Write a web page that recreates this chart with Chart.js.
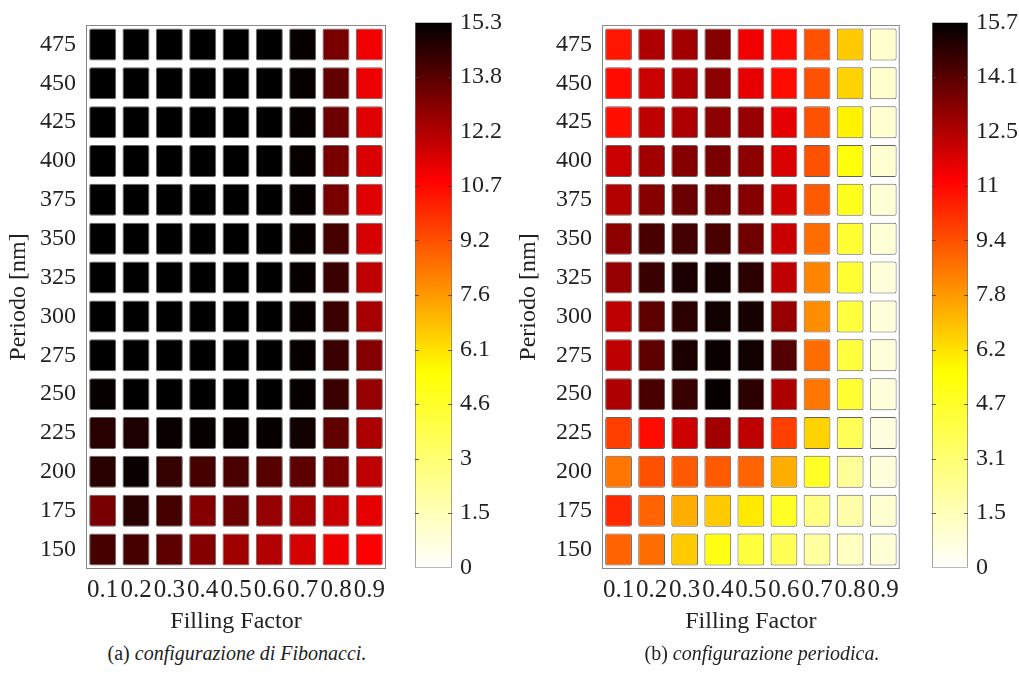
<!DOCTYPE html>
<html>
<head>
<meta charset="utf-8">
<script src="https://cdn.jsdelivr.net/npm/chart.js@4.4.1/dist/chart.umd.min.js"></script>
<style>
  body { margin: 0; background: #fff; }
  #wrap { position: relative; width: 1019px; height: 684px; overflow: hidden; }
  canvas { position: absolute; top: 0; }
  .caption { position: absolute; top: 642px; font: 20px "Liberation Serif", "Times New Roman", serif; color: #222; white-space: nowrap; transform: translateX(-50%); }
</style>
</head>
<body>
<div id="wrap">
  <canvas id="heat-fib" width="395" height="636" style="left:0"></canvas>
  <canvas id="cb-fib" width="110" height="590" style="left:405px"></canvas>
  <canvas id="heat-per" width="395" height="636" style="left:510px"></canvas>
  <canvas id="cb-per" width="97" height="590" style="left:922px"></canvas>
  <div class="caption" style="left:237px">(a) <i>configurazione di Fibonacci.</i></div>
  <div class="caption" style="left:762px">(b) <i>configurazione periodica.</i></div>
</div>
<script>
// rows go from top (475 nm) to bottom (150 nm)
const periods = [475, 450, 425, 400, 375, 350, 325, 300, 275, 250, 225, 200, 175, 150];
const fillingFactors = ['0.1', '0.2', '0.3', '0.4', '0.5', '0.6', '0.7', '0.8', '0.9'];

const fibValues = [
  [15.3, 15.3, 15.3, 15.3, 15.3, 15.3, 15.2, 13.2, 11.1],
  [15.3, 15.3, 15.3, 15.3, 15.3, 15.3, 15.2, 13.6, 11.2],
  [15.3, 15.3, 15.3, 15.3, 15.3, 15.3, 15.2, 13.4, 11.4],
  [15.3, 15.3, 15.3, 15.3, 15.3, 15.3, 15.2, 13.2, 11.5],
  [15.3, 15.3, 15.3, 15.3, 15.3, 15.3, 15.2, 13.2, 11.4],
  [15.3, 15.3, 15.3, 15.3, 15.3, 15.3, 15.2, 14.1, 11.6],
  [15.3, 15.3, 15.3, 15.3, 15.3, 15.3, 15.2, 14.3, 12.0],
  [15.3, 15.3, 15.3, 15.3, 15.3, 15.3, 15.2, 14.3, 12.4],
  [15.3, 15.3, 15.3, 15.3, 15.3, 15.3, 15.2, 14.3, 13.0],
  [15.2, 15.3, 15.3, 15.3, 15.3, 15.3, 15.2, 14.3, 12.7],
  [14.6, 14.8, 15.1, 15.2, 15.2, 15.2, 15.0, 13.6, 12.3],
  [14.6, 15.1, 14.4, 14.1, 14.0, 13.8, 13.7, 13.2, 12.0],
  [13.2, 14.6, 14.1, 13.0, 13.4, 12.7, 12.4, 11.8, 11.3],
  [14.1, 14.1, 13.7, 13.0, 12.5, 12.2, 11.6, 11.1, 10.9]
];

const perValues = [
  [10.7, 12.6, 12.8, 13.3, 11.4, 10.9, 9.4, 6.8, 1.1],
  [10.9, 12.1, 12.6, 13.2, 11.6, 10.9, 9.4, 6.6, 1.1],
  [10.8, 12.3, 12.6, 13.2, 13.0, 11.6, 9.4, 5.9, 1.0],
  [12.1, 12.8, 13.3, 13.5, 13.2, 11.8, 9.4, 5.4, 1.0],
  [12.5, 13.3, 13.8, 13.7, 13.3, 12.0, 9.2, 5.0, 0.9],
  [13.2, 14.4, 14.5, 14.4, 13.7, 12.1, 8.8, 4.5, 0.9],
  [13.0, 14.7, 15.2, 15.3, 14.9, 12.3, 8.3, 4.5, 0.8],
  [12.3, 14.0, 14.9, 15.4, 15.3, 13.0, 8.1, 4.3, 0.8],
  [12.3, 14.0, 15.2, 15.5, 15.4, 14.2, 8.8, 4.3, 0.8],
  [12.6, 14.4, 14.7, 15.6, 14.9, 12.6, 8.6, 4.5, 0.8],
  [9.8, 10.9, 12.0, 12.8, 12.3, 9.8, 6.6, 3.7, 0.7],
  [8.6, 9.4, 9.2, 9.2, 9.0, 7.4, 4.8, 2.3, 0.8],
  [10.3, 9.0, 7.4, 6.8, 6.1, 4.8, 2.8, 1.9, 1.0],
  [9.0, 8.8, 6.8, 5.2, 4.3, 3.7, 2.1, 1.4, 0.9]
];

const fibMax = 15.3;
const perMax = 15.7;
const fibTicks = ['0', '1.5', '3', '4.6', '6.1', '7.6', '9.2', '10.7', '12.2', '13.8', '15.3'];
const perTicks = ['0', '1.5', '3.1', '4.7', '6.2', '7.8', '9.4', '11', '12.5', '14.1', '15.7'];

// reversed "hot" colormap: white -> yellow -> red -> black
const cmap = [
  [0, [255, 255, 255]],
  [0.36, [255, 255, 0]],
  [0.71, [255, 0, 0]],
  [1, [0, 0, 0]]
];

function colorAt(t) {
  t = Math.max(0, Math.min(1, t));
  for (let i = 1; i < cmap.length; i++) {
    const [t1, c1] = cmap[i];
    const [t0, c0] = cmap[i - 1];
    if (t <= t1) {
      const f = (t - t0) / (t1 - t0);
      const c = c0.map((v, k) => Math.round(v + (c1[k] - v) * f));
      return `rgb(${c.join(',')})`;
    }
  }
  return 'rgb(0,0,0)';
}

const CELL_HALF = 10.3; // half cell height, nm
Chart.defaults.font.family = '"Liberation Serif", "Times New Roman", serif';
Chart.defaults.color = '#222';

const frame = {
  id: 'frame',
  afterDraw(chart) {
    const a = chart.chartArea;
    const ctx = chart.ctx;
    ctx.save();
    ctx.strokeStyle = '#888';
    ctx.lineWidth = 1;
    ctx.strokeRect(a.left + 0.5, a.top + 0.5, a.right - a.left - 1, a.bottom - a.top - 1);
    ctx.restore();
  }
};

// small inward tick marks on both edges of a colorbar
const innerTicks = {
  id: 'innerTicks',
  afterDraw(chart) {
    const a = chart.chartArea;
    const ctx = chart.ctx;
    const y = chart.scales.y;
    ctx.save();
    ctx.strokeStyle = 'rgba(60,60,60,0.8)';
    ctx.lineWidth = 1;
    y.ticks.forEach((t, i) => {
      if (i === 0 || i === y.ticks.length - 1) return;
      const py = Math.round(y.getPixelForValue(t.value)) + 0.5;
      ctx.beginPath();
      ctx.moveTo(a.left, py); ctx.lineTo(a.left + 4, py);
      ctx.moveTo(a.right - 4, py); ctx.lineTo(a.right, py);
      ctx.stroke();
    });
    ctx.restore();
  }
};

function heatmap(id, values, max, padRight, axisWidth) {
  const datasets = periods.map((p, i) => ({
    data: fillingFactors.map(() => [p - CELL_HALF, p + CELL_HALF]),
    backgroundColor: values[i].map((v) => colorAt(v / max)),
    borderColor: 'rgba(70,70,70,0.85)',
    borderWidth: 1,
    borderSkipped: false,
    borderRadius: 2,
    grouped: false,
    barPercentage: 0.81,
    categoryPercentage: 1
  }));
  new Chart(document.getElementById(id), {
    type: 'bar',
    data: { labels: fillingFactors, datasets },
    options: {
      responsive: false,
      animation: false,
      layout: { padding: { top: 25, right: padRight } },
      plugins: { legend: { display: false }, tooltip: { enabled: false } },
      scales: {
        x: {
          grid: { display: false, drawTicks: false },
          border: { display: false },
          ticks: { font: { size: 25 }, padding: 6, autoSkip: false, maxRotation: 0 },
          title: { display: true, text: 'Filling Factor', font: { size: 24 }, padding: 0 },
          afterFit: (s) => { s.height = 67; }
        },
        y: {
          min: 137.5,
          max: 487.5,
          grid: { display: false, drawTicks: false },
          border: { display: false },
          ticks: { font: { size: 24 }, padding: 10 },
          afterBuildTicks: (s) => { s.ticks = periods.map((p) => ({ value: p })); },
          title: { display: true, text: 'Periodo [nm]', font: { size: 24 } },
          afterFit: (s) => { s.width = axisWidth; }
        }
      }
    },
    plugins: [frame]
  });
}

function colorbar(id, max, labels, axisWidth) {
  new Chart(document.getElementById(id), {
    type: 'bar',
    data: {
      labels: [''],
      datasets: [{
        data: [[0, max]],
        backgroundColor: (ctx) => {
          const a = ctx.chart.chartArea;
          if (!a) return 'transparent';
          const g = ctx.chart.ctx.createLinearGradient(0, a.bottom, 0, a.top);
          cmap.forEach(([t, c]) => g.addColorStop(t, `rgb(${c.join(',')})`));
          return g;
        },
        borderColor: '#777',
        borderWidth: 1,
        borderSkipped: false,
        barPercentage: 1,
        categoryPercentage: 1
      }]
    },
    options: {
      responsive: false,
      animation: false,
      layout: { padding: { top: 22, bottom: 22, left: 10 } },
      plugins: { legend: { display: false }, tooltip: { enabled: false } },
      scales: {
        x: { display: false },
        y: {
          position: 'right',
          min: 0,
          max,
          grid: { display: false, drawTicks: false },
          border: { display: false },
          ticks: { font: { size: 24 }, padding: 8, callback: (v, i) => labels[i] },
          afterBuildTicks: (s) => { s.ticks = labels.map((l, i) => ({ value: max * i / 10 })); },
          afterFit: (s) => { s.width = axisWidth; }
        }
      }
    },
    plugins: [innerTicks]
  });
}

heatmap('heat-fib', fibValues, fibMax, 9, 86);
heatmap('heat-per', perValues, perMax, 3, 92);
colorbar('cb-fib', fibMax, fibTicks, 63);
colorbar('cb-per', perMax, perTicks, 51);
</script>
</body>
</html>
